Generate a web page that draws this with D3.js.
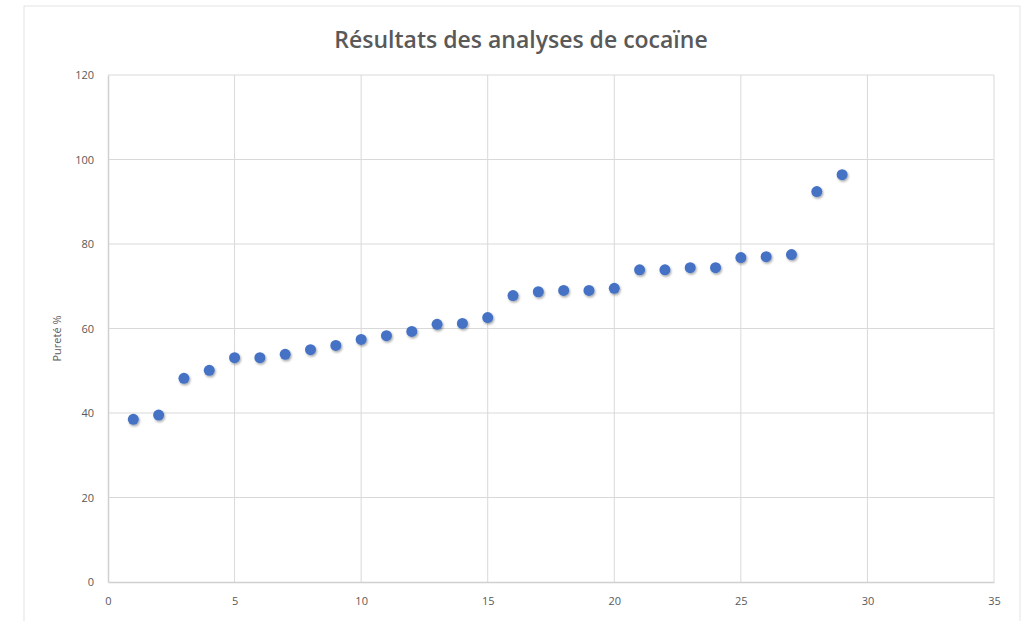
<!DOCTYPE html>
<html>
<head>
<meta charset="utf-8">
<script src="https://cdn.jsdelivr.net/npm/d3@7"></script>
<style>
  body { margin: 0; background: #fff; }
  text { font-family: "Open Sans", "Liberation Sans", sans-serif; }
</style>
</head>
<body>
<div id="viz"></div>
<script>
// données - échantillons et pureté
var samples = [1,2,3,4,5,6,7,8,9,10,11,12,13,14,15,16,17,18,19,20,21,22,23,24,25,26,27,28,29];
var purity = [38.5,39.5,48.2,50.1,53.1,53.1,53.9,55,56,57.4,58.3,59.3,61,61.2,62.6,67.8,68.7,69,69,69.5,73.9,73.9,74.4,74.4,76.8,77,77.5,92.4,96.4];
var xTicks = [0,5,10,15,20,25,30,35];
var yTicks = [0,20,40,60,80,100,120];

var width = 1031, height = 621;
var margin = {left: 108, right: 37, top: 75, bottom: 39};

var svg = d3.select('#viz').append('svg')
  .attr('width', width)
  .attr('height', height);

var defs = svg.append('defs');
var f = defs.append('filter').attr('id', 'shadow')
  .attr('x', '-50%').attr('y', '-50%').attr('width', '200%').attr('height', '200%');
f.append('feDropShadow')
  .attr('dx', 1).attr('dy', 1.5).attr('stdDeviation', 1.2)
  .attr('flood-color', '#000').attr('flood-opacity', 0.35);

// cadre du graphique
svg.append('rect')
  .attr('x', 24).attr('y', 6)
  .attr('width', 996).attr('height', 640)
  .attr('fill', 'none')
  .attr('stroke', '#e4e4e4')
  .attr('stroke-width', 1);

var x = d3.scaleLinear().domain([0, 35]).range([margin.left, width - margin.right]);
var y = d3.scaleLinear().domain([0, 120]).range([height - margin.bottom, margin.top]);

// grille
svg.append('g')
  .selectAll('line.v')
  .data(xTicks.slice(1))
  .join('line')
  .attr('x1', d => x(d)).attr('x2', d => x(d))
  .attr('y1', y(0)).attr('y2', y(120))
  .attr('stroke', '#d9d9d9');

svg.append('g')
  .selectAll('line.h')
  .data(yTicks.slice(1))
  .join('line')
  .attr('x1', x(0)).attr('x2', x(35))
  .attr('y1', d => y(d)).attr('y2', d => y(d))
  .attr('stroke', '#d9d9d9');

// axes
var xAxis = svg.append('g')
  .attr('transform', 'translate(0,' + y(0) + ')')
  .call(d3.axisBottom(x).tickValues(xTicks).tickSize(0).tickPadding(15));
var yAxis = svg.append('g')
  .attr('transform', 'translate(' + x(0) + ',0)')
  .call(d3.axisLeft(y).tickValues(yTicks).tickSize(0).tickPadding(14));

[xAxis, yAxis].forEach(function(a){
  a.select('.domain').attr('stroke', '#d0d0d0').attr('stroke-width', 1.5);
  a.selectAll('text')
    .attr('fill', '#595959')
    .attr('font-size', '11px');
});

// points
svg.append('g')
  .selectAll('circle')
  .data(samples)
  .join('circle')
  .attr('cx', d => x(d))
  .attr('cy', (d, i) => y(purity[i]))
  .attr('r', 5.5)
  .attr('fill', '#4472c4')
  .attr('filter', 'url(#shadow)');

// titre
svg.append('text')
  .text('Résultats des analyses de cocaïne')
  .attr('x', 521)
  .attr('y', 48)
  .attr('text-anchor', 'middle')
  .attr('fill', '#595959')
  .attr('font-size', '23px')
  .style('font-weight', '600');

svg.append('text')
  .text('Pureté %')
  .attr('transform', 'translate(61,' + (y(60) + 10) + ') rotate(-90)')
  .attr('text-anchor', 'middle')
  .attr('fill', '#595959')
  .attr('font-size', '11px');
</script>
</body>
</html>
